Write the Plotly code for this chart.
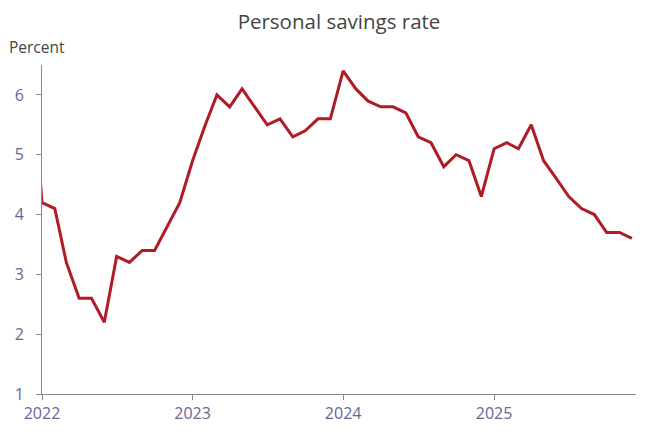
import plotly.graph_objects as go

months = [
    "2021-12-01",
    "2022-01-01", "2022-02-01", "2022-03-01", "2022-04-01", "2022-05-01", "2022-06-01",
    "2022-07-01", "2022-08-01", "2022-09-01", "2022-10-01", "2022-11-01", "2022-12-01",
    "2023-01-01", "2023-02-01", "2023-03-01", "2023-04-01", "2023-05-01", "2023-06-01",
    "2023-07-01", "2023-08-01", "2023-09-01", "2023-10-01", "2023-11-01", "2023-12-01",
    "2024-01-01", "2024-02-01", "2024-03-01", "2024-04-01", "2024-05-01", "2024-06-01",
    "2024-07-01", "2024-08-01", "2024-09-01", "2024-10-01", "2024-11-01", "2024-12-01",
    "2025-01-01", "2025-02-01", "2025-03-01", "2025-04-01", "2025-05-01", "2025-06-01",
    "2025-07-01", "2025-08-01", "2025-09-01", "2025-10-01", "2025-11-01", "2025-12-01",
]
savings_rate = [
    7.0,
    4.2, 4.1, 3.2, 2.6, 2.6, 2.2,
    3.3, 3.2, 3.4, 3.4, 3.8, 4.2,
    4.9, 5.5, 6.0, 5.8, 6.1, 5.8,
    5.5, 5.6, 5.3, 5.4, 5.6, 5.6,
    6.4, 6.1, 5.9, 5.8, 5.8, 5.7,
    5.3, 5.2, 4.8, 5.0, 4.9, 4.3,
    5.1, 5.2, 5.1, 5.5, 4.9, 4.6,
    4.3, 4.1, 4.0, 3.7, 3.7, 3.6,
]
x_tick_vals = ["2022-01-01", "2023-01-01", "2024-01-01", "2025-01-01"]
x_tick_text = ["2022", "2023", "2024", "2025"]
y_tick_vals = [1, 2, 3, 4, 5, 6]

FONT = "Open Sans, sans-serif"
TICK_COLOR = "#66669a"
AXIS_COLOR = "#8a8a8a"

fig = go.Figure()
fig.add_trace(go.Scatter(
    x=months, y=savings_rate, mode="lines",
    line=dict(color="#b01b25", width=3),
    hoverinfo="x+y", showlegend=False,
))

fig.update_layout(
    width=650, height=433,
    margin=dict(l=34, r=22, t=57, b=47, autoexpand=False),
    paper_bgcolor="white", plot_bgcolor="white",
    font=dict(family=FONT, size=16, color=TICK_COLOR),
    title=dict(text="Personal savings rate", x=0.5, xanchor="center",
               xref="paper", yref="container",
               y=1 - 14 / 433, yanchor="middle", pad=dict(t=0, b=0),
               font=dict(family=FONT, size=20.5, color="#444444")),
    xaxis=dict(
        type="date", range=["2022-01-01", "2025-12-11"],
        tickvals=x_tick_vals, ticktext=x_tick_text,
        showgrid=False, zeroline=False, automargin=False,
        showline=True, linecolor=AXIS_COLOR, linewidth=1,
        ticks="outside", ticklen=5, tickcolor=AXIS_COLOR,
        tickfont=dict(family=FONT, size=16, color=TICK_COLOR),
    ),
    yaxis=dict(
        range=[1, 6.5], tickvals=y_tick_vals,
        showgrid=False, zeroline=False, automargin=False,
        showline=True, linecolor=AXIS_COLOR, linewidth=1,
        ticks="outside", ticklen=5, tickcolor=AXIS_COLOR,
        ticklabelstandoff=9,
        tickfont=dict(family=FONT, size=16, color=TICK_COLOR),
    ),
    annotations=[dict(
        text="Percent", xref="paper", yref="paper",
        x=0, xshift=-35, xanchor="left",
        y=1, yshift=18, yanchor="middle",
        showarrow=False,
        font=dict(family=FONT, size=15.5, color="#444444"),
    )],
)

fig.write_html("out.html")
